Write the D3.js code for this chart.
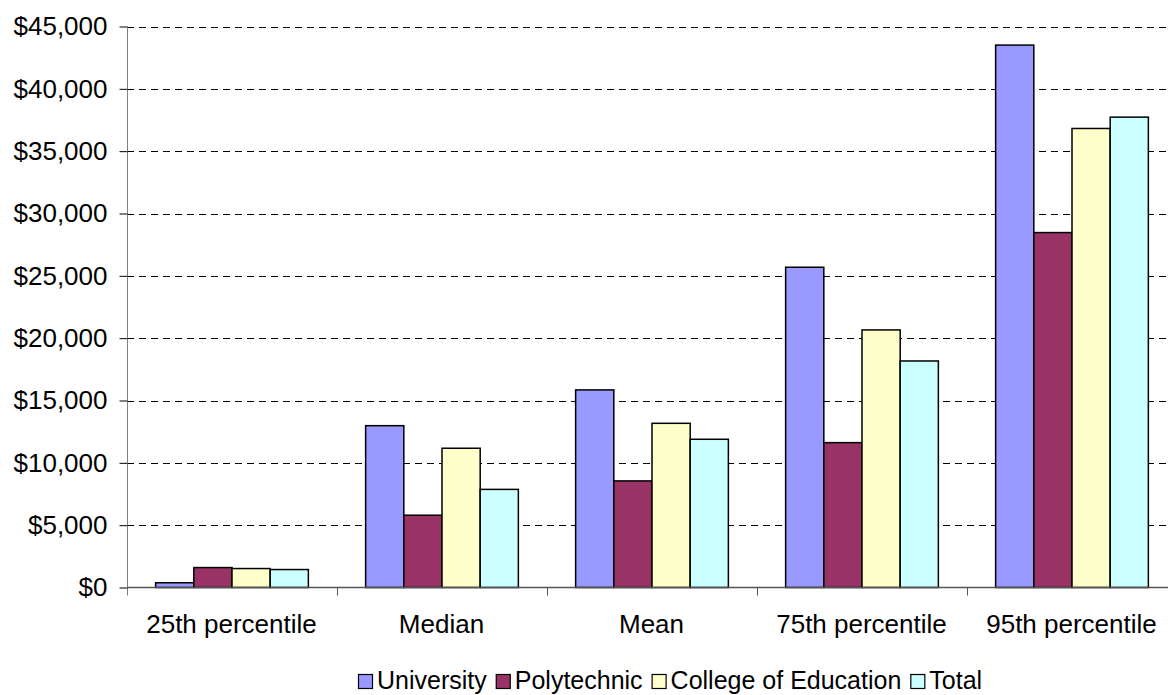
<!DOCTYPE html>
<html>
<head>
<meta charset="utf-8">
<script src="https://cdn.jsdelivr.net/npm/d3@7"></script>
<style>
  html, body { margin: 0; padding: 0; background: #fff; }
  svg { display: block; font-family: "Liberation Sans", Arial, sans-serif; }
</style>
</head>
<body>
<svg id="chart" width="1168" height="695"></svg>
<script>
// Earnings by institution type, across distribution measures
const categories = ["25th percentile", "Median", "Mean", "75th percentile", "95th percentile"];
const seriesNames = ["University", "Polytechnic", "College of Education", "Total"];
const university = [380, 12980, 15850, 25690, 43510];
const polytechnic = [1600, 5800, 8550, 11620, 28470];
const collegeOfEducation = [1520, 11170, 13170, 20660, 36820];
const total = [1440, 7870, 11890, 18170, 37730];
const yTicks = [0, 5000, 10000, 15000, 20000, 25000, 30000, 35000, 40000, 45000];
const colors = ["#9999FF", "#993366", "#FFFFCC", "#CCFFFF"];

const seriesValues = [university, polytechnic, collegeOfEducation, total];

const svg = d3.select("#chart");
const plotLeft = 127, plotRight = 1177, plotTop = 26.5, plotBottom = 587.5;

const x = d3.scaleBand().domain(categories).range([plotLeft, plotRight]).padding(0);
const xs = d3.scaleBand().domain(seriesNames)
  .range([0, x.bandwidth()]).paddingInner(0).paddingOuter(0.75);
const y = d3.scaleLinear().domain([0, 45000]).range([plotBottom, plotTop]);

const fmt = v => "$" + d3.format(",")(v);

// Dashed horizontal gridlines
svg.append("g")
  .selectAll("line")
  .data(yTicks.filter(t => t > 0))
  .join("line")
  .attr("x1", plotLeft).attr("x2", plotRight)
  .attr("y1", d => Math.round(y(d)) + 0.5).attr("y2", d => Math.round(y(d)) + 0.5)
  .attr("stroke", "#000").attr("stroke-width", 1)
  .attr("stroke-dasharray", "7,5");

// Bars
const groups = svg.append("g").selectAll("g")
  .data(categories)
  .join("g")
  .attr("transform", c => `translate(${x(c)},0)`);

groups.selectAll("rect")
  .data((c, i) => seriesNames.map((s, j) => ({ s, j, v: seriesValues[j][i] })))
  .join("rect")
  .attr("x", d => xs(d.s))
  .attr("width", xs.bandwidth())
  .attr("y", d => y(d.v))
  .attr("height", d => plotBottom - y(d.v))
  .attr("fill", d => colors[d.j])
  .attr("stroke", "#000")
  .attr("stroke-width", 1.5);

// Y axis
const yAxis = d3.axisLeft(y).tickValues(yTicks).tickFormat(fmt).tickSize(8).tickPadding(12);
const gy = svg.append("g").attr("transform", `translate(${plotLeft + 0.5},0)`).call(yAxis);
gy.select(".domain").attr("stroke", "#808080").attr("d", `M0,${plotTop}V${plotBottom + 8}`);
gy.selectAll(".tick line").attr("stroke", "#000");
gy.selectAll(".tick text").attr("font-size", 26).attr("fill", "#000")
  .attr("font-family", "'Liberation Sans', Arial, sans-serif");

// X axis baseline with ticks at category boundaries
svg.append("line")
  .attr("x1", plotLeft).attr("x2", plotRight)
  .attr("y1", plotBottom).attr("y2", plotBottom)
  .attr("stroke", "#555").attr("stroke-width", 1.5);
svg.append("g").selectAll("line")
  .data(categories)
  .join("line")
  .attr("x1", c => Math.round(x(c) + x.bandwidth()) + 0.5)
  .attr("x2", c => Math.round(x(c) + x.bandwidth()) + 0.5)
  .attr("y1", plotBottom).attr("y2", plotBottom + 8)
  .attr("stroke", "#555");

svg.append("g").selectAll("text")
  .data(categories)
  .join("text")
  .attr("x", c => x(c) + x.bandwidth() / 2 - 0.5)
  .attr("y", 633)
  .attr("text-anchor", "middle")
  .attr("font-size", 26)
  .attr("fill", "#000")
  .text(c => c);

// Legend
const legend = svg.append("g").attr("transform", "translate(358,0)");
let lx = 0;
seriesNames.forEach((s, i) => {
  legend.append("rect")
    .attr("x", lx + 0.5).attr("y", 674.5)
    .attr("width", 14).attr("height", 14)
    .attr("fill", colors[i]).attr("stroke", "#000").attr("stroke-width", 1.2);
  const t = legend.append("text")
    .attr("x", lx + 19).attr("y", 689)
    .attr("font-size", 25).attr("fill", "#000")
    .text(s);
  lx += 19 + t.node().getComputedTextLength() + 9;
});
</script>
</body>
</html>
